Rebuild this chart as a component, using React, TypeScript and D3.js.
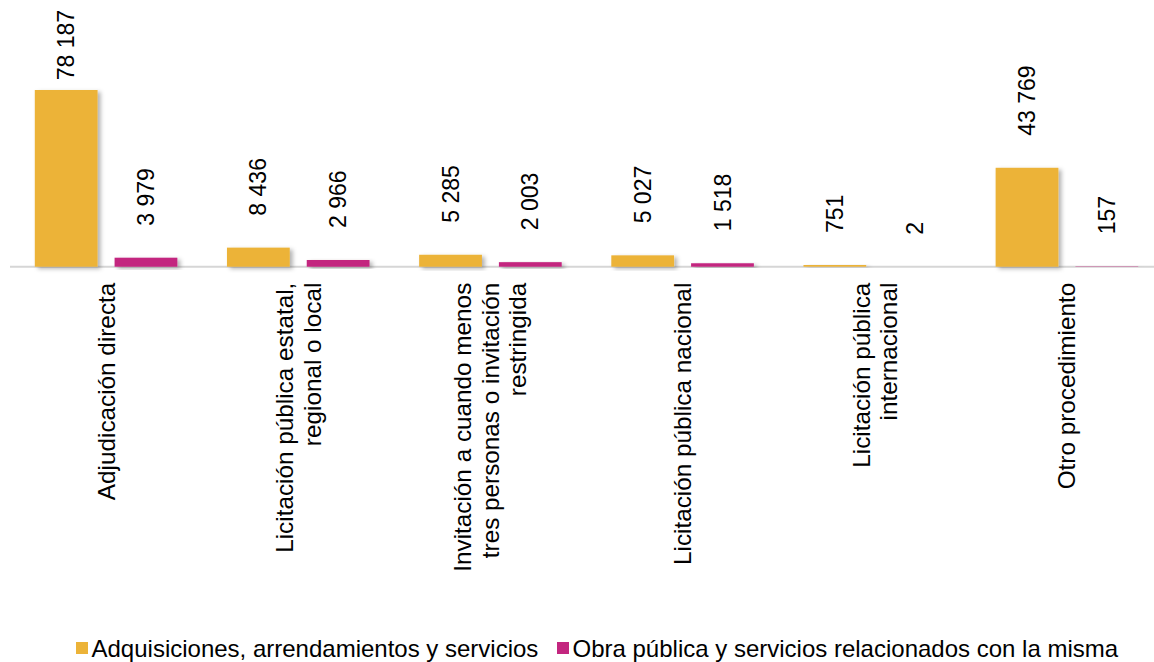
import React from "react";
import * as d3 from "d3";

const categories: string[][] = [
  ["Adjudicación directa"],
  ["Licitación pública estatal,", "regional o local"],
  ["Invitación a cuando menos", "tres personas o invitación", "restringida"],
  ["Licitación pública nacional"],
  ["Licitación pública", "internacional"],
  ["Otro procedimiento"],
];
const seriesNames = [
  "Adquisiciones, arrendamientos y servicios",
  "Obra pública y servicios relacionados con la misma",
];
const adquisiciones = [78187, 8436, 5285, 5027, 751, 43769];
const obraPublica = [3979, 2966, 2003, 1518, 2, 157];
const seriesColors = ["#ECB338", "#C3267F"];

const W = 1154;
const H = 662;
const FONT = "'Liberation Sans', Arial, sans-serif";

export default function App() {
  const keys = categories.map((_, i) => String(i));
  const x0 = d3.scaleBand<string>().domain(keys).range([10, 1163]).paddingInner(0).paddingOuter(0);
  const x1 = d3
    .scaleBand<string>()
    .domain(["0", "1"])
    .range([24.8, x0.bandwidth() - 24.8])
    .paddingInner(0.213)
    .paddingOuter(0);
  const y = d3.scaleLinear().domain([0, 90000]).range([266.7, 63.3]);
  const baseY = y(0);
  const fmt = (v: number) => d3.format(",")(v).replace(/,/g, " ");
  const series = [adquisiciones, obraPublica];
  const valFs = 23;
  const catFs = 24.3;
  const lineH = 27.5;
  const estLen = (s: string) =>
    s.split("").reduce((a, c) => a + (c === " " ? 0.278 : 0.556), 0) * valFs;
  const legendX = [76, 557];

  return (
    <svg
      width={W}
      height={H}
      style={{ position: "absolute", left: 0, top: 0, background: "#fff" }}
      fontFamily={FONT}
    >
      <defs>
        <filter id="shadow" x="-20%" y="-20%" width="150%" height="150%">
          <feDropShadow dx="3" dy="2" stdDeviation="2" floodColor="#000" floodOpacity="0.3" />
        </filter>
      </defs>
      <rect x={0} y={0} width={W} height={H} fill="#fff" />
      <line x1={10} x2={W} y1={baseY} y2={baseY} stroke="#d6d6d6" strokeWidth={2} />
      {keys.map((k, i) => (
        <g key={k}>
          {series.map((vals, s) => {
            const v = vals[i];
            const bx = (x0(k) as number) + (x1(String(s)) as number);
            const bw = x1.bandwidth();
            const top = y(v);
            return (
              <rect
                key={s}
                x={bx}
                y={top}
                width={bw}
                height={Math.max(0, baseY - top)}
                fill={seriesColors[s]}
                filter="url(#shadow)"
              />
            );
          })}
          {series.map((vals, s) => {
            const v = vals[i];
            const label = fmt(v);
            const cx = (x0(k) as number) + (x1(String(s)) as number) + x1.bandwidth() / 2;
            const anchorY = Math.max(y(v) - 32, 10 + estLen(label));
            return (
              <text
                key={"l" + s}
                transform={`translate(${cx},${anchorY}) rotate(-90)`}
                fontSize={valFs}
                dy="0.35em"
                textAnchor="start"
                fill="#000"
              >
                {label}
              </text>
            );
          })}
          {categories[i].map((line, li) => {
            const n = categories[i].length;
            const cx = (x0(k) as number) + x0.bandwidth() / 2 + (li - (n - 1) / 2) * lineH;
            return (
              <text
                key={"c" + li}
                transform={`translate(${cx},${baseY + 16}) rotate(-90)`}
                fontSize={catFs}
                dy="0.35em"
                textAnchor="end"
                fill="#000"
              >
                {line}
              </text>
            );
          })}
        </g>
      ))}
      {seriesNames.map((name, s) => {
        const lx = legendX[s];
        return (
          <g key={name}>
            <rect x={lx} y={642} width={12} height={12} fill={seriesColors[s]} />
            <text x={lx + 15.5} y={657} fontSize={24} fill="#000">
              {name}
            </text>
          </g>
        );
      })}
    </svg>
  );
}
